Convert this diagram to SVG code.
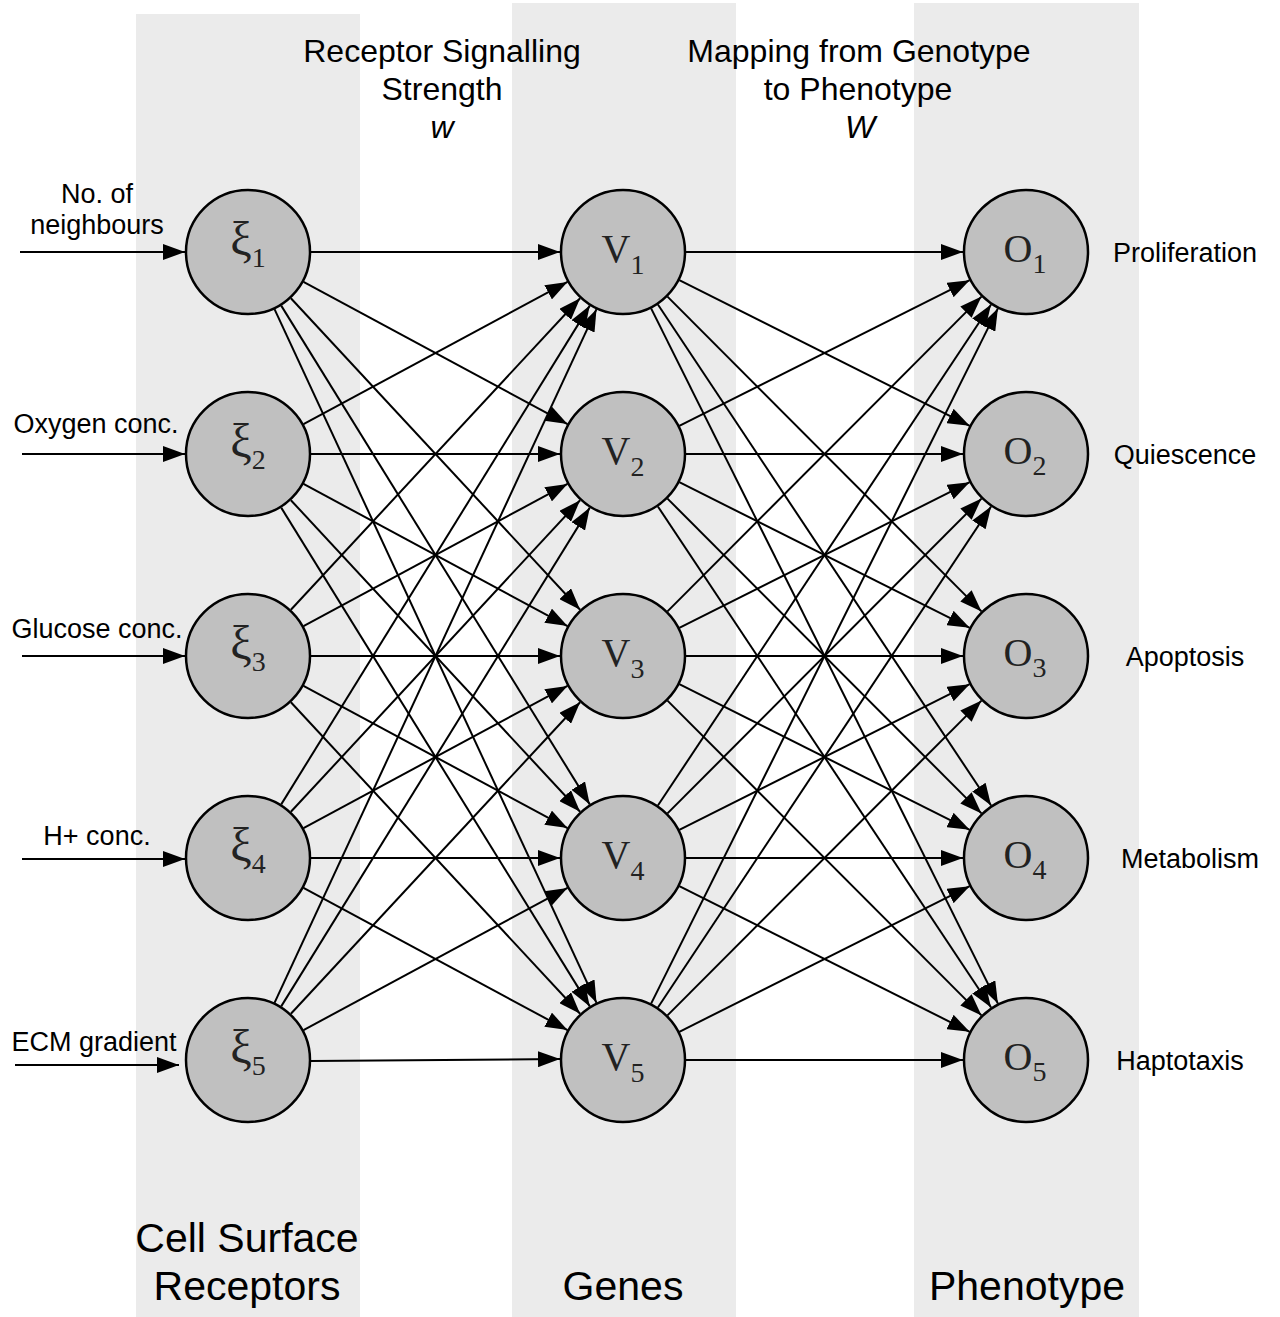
<svg xmlns="http://www.w3.org/2000/svg" width="1280" height="1317" viewBox="0 0 1280 1317">
<style>
.band{fill:#ebebeb}
.node{fill:#c0c0c0;stroke:#000;stroke-width:2.5}
.lbl{font-family:"Liberation Serif","Times New Roman",serif;font-size:40px;fill:#222;text-anchor:middle}
.xi{font-size:48px}
.sub{font-size:28px}
.sans{font-family:"Liberation Sans",Arial,sans-serif;fill:#000}
.title{font-size:32px;text-anchor:middle}
.side{font-size:27px;text-anchor:middle}
.big{font-size:41px;text-anchor:middle}
#connectors line{stroke:#000;stroke-width:2;marker-end:url(#arr)}
</style>
<defs>
<marker id="arr" markerUnits="userSpaceOnUse" markerWidth="22" markerHeight="16" refX="22" refY="8" orient="auto">
<path d="M0,0 L22,8 L0,16 z" fill="#000"/>
</marker>
</defs>
<rect width="1280" height="1317" fill="#fff"/>
<g id="bands">
<rect class="band" x="136" y="14" width="224" height="1303"/>
<rect class="band" x="512" y="3" width="224" height="1314"/>
<rect class="band" x="914" y="3" width="225" height="1314"/>
</g>
<g id="titles" class="sans">
<text class="title" x="442" y="62">Receptor Signalling</text>
<text class="title" x="442" y="100">Strength</text>
<text class="title" x="442" y="138" font-style="italic">w</text>
<text class="title" x="859" y="62">Mapping from Genotype</text>
<text class="title" x="858" y="100">to Phenotype</text>
<text class="title" x="860" y="138" font-style="italic">W</text>
<text class="big" x="247" y="1252">Cell Surface</text>
<text class="big" x="247" y="1300">Receptors</text>
<text class="big" x="623" y="1300">Genes</text>
<text class="big" x="1027" y="1300">Phenotype</text>
</g>
<g id="inputs" class="sans">
<text class="side" x="97" y="203">No. of</text>
<text class="side" x="97" y="234">neighbours</text>
<text class="side" x="96" y="433">Oxygen conc.</text>
<text class="side" x="97" y="638">Glucose conc.</text>
<text class="side" x="97" y="845">H+ conc.</text>
<text class="side" x="94" y="1051">ECM gradient</text>
</g>
<g id="outputs" class="sans">
<text class="side" x="1185" y="262">Proliferation</text>
<text class="side" x="1185" y="464">Quiescence</text>
<text class="side" x="1185" y="666">Apoptosis</text>
<text class="side" x="1190" y="868">Metabolism</text>
<text class="side" x="1180" y="1070">Haptotaxis</text>
</g>
<g id="connectors">
<line x1="20" y1="252" x2="185" y2="252"/>
<line x1="22" y1="454" x2="185" y2="454"/>
<line x1="22" y1="656" x2="185" y2="656"/>
<line x1="22" y1="859" x2="185" y2="859"/>
<line x1="15" y1="1065" x2="179" y2="1065"/>

<line x1="311" y1="252" x2="560" y2="252"/>
<line x1="303.5" y1="281.9" x2="567.5" y2="424.1"/>
<line x1="290.9" y1="298.2" x2="580.1" y2="609.8"/>
<line x1="281.2" y1="305.6" x2="589.8" y2="804.4"/>
<line x1="274.5" y1="309.2" x2="596.5" y2="1002.8"/>

<line x1="303.5" y1="424.1" x2="567.5" y2="281.9"/>
<line x1="311" y1="454" x2="560" y2="454"/>
<line x1="303.5" y1="483.9" x2="567.5" y2="626.1"/>
<line x1="290.9" y1="500.2" x2="580.1" y2="811.8"/>
<line x1="281.2" y1="507.6" x2="589.8" y2="1006.4"/>

<line x1="290.9" y1="609.8" x2="580.1" y2="298.2"/>
<line x1="303.5" y1="626.1" x2="567.5" y2="483.9"/>
<line x1="311" y1="656" x2="560" y2="656"/>
<line x1="303.5" y1="685.9" x2="567.5" y2="828.1"/>
<line x1="290.9" y1="702.2" x2="580.1" y2="1013.8"/>

<line x1="281.2" y1="804.4" x2="589.8" y2="305.6"/>
<line x1="290.9" y1="811.8" x2="580.1" y2="500.2"/>
<line x1="303.5" y1="828.1" x2="567.5" y2="685.9"/>
<line x1="311" y1="858" x2="560" y2="858"/>
<line x1="303.5" y1="887.9" x2="567.5" y2="1030.1"/>

<line x1="274.5" y1="1002.8" x2="596.5" y2="309.2"/>
<line x1="281.2" y1="1006.4" x2="589.8" y2="507.6"/>
<line x1="290.9" y1="1013.8" x2="580.1" y2="702.2"/>
<line x1="303.5" y1="1030.1" x2="567.5" y2="887.9"/>
<line x1="311" y1="1061" x2="560" y2="1059"/>

<line x1="686" y1="252" x2="963" y2="252"/>
<line x1="679.3" y1="280.2" x2="969.7" y2="425.8"/>
<line x1="667.5" y1="296.6" x2="981.5" y2="611.4"/>
<line x1="657.9" y1="304.5" x2="991.1" y2="805.5"/>
<line x1="651.1" y1="308.4" x2="997.9" y2="1003.6"/>

<line x1="679.3" y1="425.8" x2="969.7" y2="280.2"/>
<line x1="686" y1="454" x2="963" y2="454"/>
<line x1="679.3" y1="482.2" x2="969.7" y2="627.8"/>
<line x1="667.5" y1="498.6" x2="981.5" y2="813.4"/>
<line x1="657.9" y1="506.5" x2="991.1" y2="1007.5"/>

<line x1="667.5" y1="611.4" x2="981.5" y2="296.6"/>
<line x1="679.3" y1="627.8" x2="969.7" y2="482.2"/>
<line x1="686" y1="656" x2="963" y2="656"/>
<line x1="679.3" y1="684.2" x2="969.7" y2="829.8"/>
<line x1="667.5" y1="700.6" x2="981.5" y2="1015.4"/>

<line x1="657.9" y1="805.5" x2="991.1" y2="304.5"/>
<line x1="667.5" y1="813.4" x2="981.5" y2="498.6"/>
<line x1="679.3" y1="829.8" x2="969.7" y2="684.2"/>
<line x1="686" y1="858" x2="963" y2="858"/>
<line x1="679.3" y1="886.2" x2="969.7" y2="1031.8"/>

<line x1="651.1" y1="1003.6" x2="997.9" y2="308.4"/>
<line x1="657.9" y1="1007.5" x2="991.1" y2="506.5"/>
<line x1="667.5" y1="1015.4" x2="981.5" y2="700.6"/>
<line x1="679.3" y1="1031.8" x2="969.7" y2="886.2"/>
<line x1="686" y1="1060" x2="963" y2="1060"/>
</g>
<g id="xi1"><circle class="node" cx="248" cy="252" r="62"/><text class="lbl" x="248" y="255"><tspan class="xi">ξ</tspan><tspan class="sub" dy="12">1</tspan></text></g>
<g id="xi2"><circle class="node" cx="248" cy="454" r="62"/><text class="lbl" x="248" y="457"><tspan class="xi">ξ</tspan><tspan class="sub" dy="12">2</tspan></text></g>
<g id="xi3"><circle class="node" cx="248" cy="656" r="62"/><text class="lbl" x="248" y="659"><tspan class="xi">ξ</tspan><tspan class="sub" dy="12">3</tspan></text></g>
<g id="xi4"><circle class="node" cx="248" cy="858" r="62"/><text class="lbl" x="248" y="861"><tspan class="xi">ξ</tspan><tspan class="sub" dy="12">4</tspan></text></g>
<g id="xi5"><circle class="node" cx="248" cy="1060" r="62"/><text class="lbl" x="248" y="1063"><tspan class="xi">ξ</tspan><tspan class="sub" dy="12">5</tspan></text></g>
<g id="v1"><circle class="node" cx="623" cy="252" r="62"/><text class="lbl" x="623" y="262">V<tspan class="sub" dy="12">1</tspan></text></g>
<g id="v2"><circle class="node" cx="623" cy="454" r="62"/><text class="lbl" x="623" y="464">V<tspan class="sub" dy="12">2</tspan></text></g>
<g id="v3"><circle class="node" cx="623" cy="656" r="62"/><text class="lbl" x="623" y="666">V<tspan class="sub" dy="12">3</tspan></text></g>
<g id="v4"><circle class="node" cx="623" cy="858" r="62"/><text class="lbl" x="623" y="868">V<tspan class="sub" dy="12">4</tspan></text></g>
<g id="v5"><circle class="node" cx="623" cy="1060" r="62"/><text class="lbl" x="623" y="1070">V<tspan class="sub" dy="12">5</tspan></text></g>
<g id="o1"><circle class="node" cx="1026" cy="252" r="62"/><text class="lbl" x="1025" y="262">O<tspan class="sub" dy="11">1</tspan></text></g>
<g id="o2"><circle class="node" cx="1026" cy="454" r="62"/><text class="lbl" x="1025" y="464">O<tspan class="sub" dy="11">2</tspan></text></g>
<g id="o3"><circle class="node" cx="1026" cy="656" r="62"/><text class="lbl" x="1025" y="666">O<tspan class="sub" dy="11">3</tspan></text></g>
<g id="o4"><circle class="node" cx="1026" cy="858" r="62"/><text class="lbl" x="1025" y="868">O<tspan class="sub" dy="11">4</tspan></text></g>
<g id="o5"><circle class="node" cx="1026" cy="1060" r="62"/><text class="lbl" x="1025" y="1070">O<tspan class="sub" dy="11">5</tspan></text></g>
</svg>
